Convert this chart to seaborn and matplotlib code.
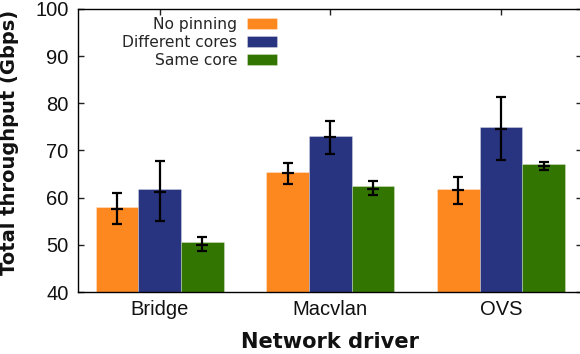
import numpy as np
import pandas as pd
import matplotlib
matplotlib.use("Agg")
import matplotlib.pyplot as plt
import seaborn as sns

# ── Data ──────────────────────────────────────────────────────────────────────
drivers  = ["Bridge", "Macvlan", "OVS"]
configs  = ["No pinning", "Different cores", "Same core"]
colors   = ["#fd8820", "#283480", "#327500"]

# bar heights per config, in driver order
bar_no_pin   = [58.1, 65.4, 61.9]
bar_diff     = [61.8, 73.1, 75.0]
bar_same     = [50.5, 62.5, 67.1]

# error bars: centre tick, lower and upper ends
err_mid_no_pin = [57.7, 65.2, 61.6]
err_lo_no_pin  = [54.5, 62.8, 58.7]
err_hi_no_pin  = [61.0, 67.4, 64.4]

err_mid_diff = [61.3, 72.8, 74.6]
err_lo_diff  = [55.1, 69.2, 68.0]
err_hi_diff  = [67.8, 76.3, 81.3]

err_mid_same = [50.0, 61.9, 66.8]
err_lo_same  = [48.6, 60.6, 65.9]
err_hi_same  = [51.7, 63.5, 67.6]

y_ticks = [40, 50, 60, 70, 80, 90, 100]

# ── Long-form table for seaborn ───────────────────────────────────────────────
bars = [bar_no_pin, bar_diff, bar_same]
errs = [
    (err_mid_no_pin, err_lo_no_pin, err_hi_no_pin),
    (err_mid_diff, err_lo_diff, err_hi_diff),
    (err_mid_same, err_lo_same, err_hi_same),
]
df = pd.DataFrame([
    {"driver": d, "config": c, "value": v}
    for c, vals in zip(configs, bars)
    for d, v in zip(drivers, vals)
])

# ── Plot ──────────────────────────────────────────────────────────────────────
sns.set_style("ticks")
plt.rcParams["font.family"] = ["Liberation Sans", "DejaVu Sans"]
LABEL_FONT = ["DejaVu Sans"]

fig = plt.figure(figsize=(5.8, 3.54), dpi=100)
ax = fig.add_axes([78.3 / 580, 62 / 354, (582 - 78.3) / 580, (292 - 9) / 354])

sns.barplot(
    data=df, x="driver", y="value", hue="config",
    order=drivers, hue_order=configs, palette=colors,
    width=0.75, gap=0, errorbar=None, saturation=1,
    edgecolor=(1, 1, 1, 0.35), linewidth=0.6, ax=ax,
)

for cont, (mid, lo, hi) in zip(ax.containers, errs):
    xs = [b.get_x() + b.get_width() / 2 for b in cont]
    mid = np.array(mid)
    yerr = [mid - np.array(lo), np.array(hi) - mid]
    ax.errorbar(xs, mid, yerr=yerr, fmt="_", color="black", ms=8, mew=1.6,
                elinewidth=1.6, capsize=3.5, capthick=1.6, zorder=3)

ax.set_xlim(-0.477, 2.475)
ax.set_ylim(40, 100)
ax.set_yticks(y_ticks)
ax.set_axisbelow(True)

for side in ["top", "right", "left", "bottom"]:
    ax.spines[side].set_visible(True)
    ax.spines[side].set_linewidth(1.0)
    ax.spines[side].set_color("black")

ax.tick_params(axis="both", direction="in", length=4.5, width=1.0,
               top=True, right=True, labelsize=14.5, colors="#222222",
               labelcolor="#111111")
ax.tick_params(axis="y", pad=7)
ax.tick_params(axis="x", pad=6)

ax.set_xlabel("Network driver", fontsize=15.1, fontweight="bold",
              family=LABEL_FONT, color="#111111", labelpad=9)
ax.set_ylabel("Total throughput (Gbps)", fontsize=14, fontweight="bold",
              family=LABEL_FONT, color="#111111")
ax.yaxis.set_label_coords(-0.118, 0.53)

handles, labels = ax.get_legend_handles_labels()
ax.legend(
    handles, labels, loc="upper right", frameon=False, markerfirst=False,
    bbox_to_anchor=(277 / 580, (354 - 16.5) / 354), bbox_transform=fig.transFigure,
    borderpad=0, borderaxespad=0, labelspacing=0.2,
    prop={"family": "DejaVu Sans", "size": 11.2},
    handlelength=1.95, handleheight=0.71, handletextpad=0.6,
)

fig.savefig("out.png", dpi=100)
